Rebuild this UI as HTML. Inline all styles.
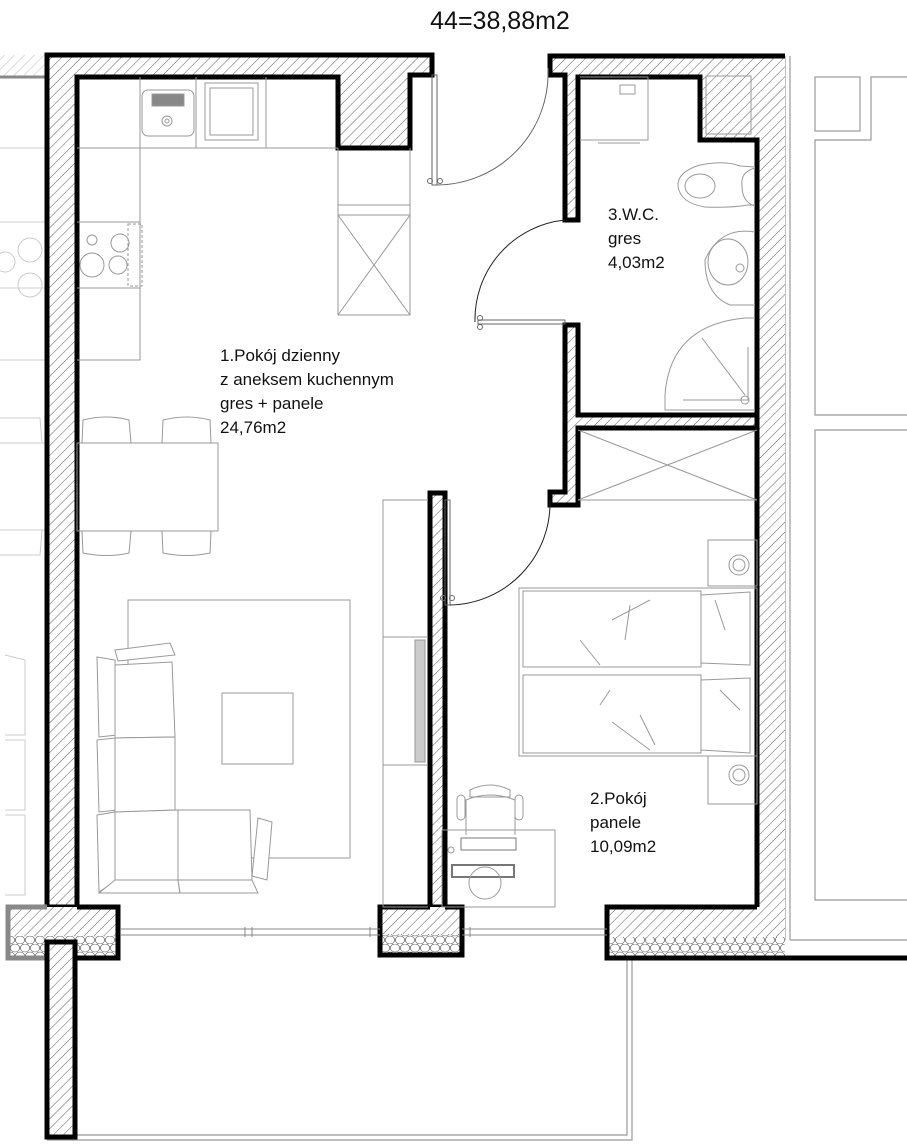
<!DOCTYPE html>
<html><head><meta charset="utf-8"><style>html,body{margin:0;padding:0;background:#fff}svg{display:block}</style></head>
<body>
<svg width="907" height="1148" viewBox="0 0 907 1148" xmlns="http://www.w3.org/2000/svg" font-family="'Liberation Sans', sans-serif">
<defs>
<pattern id="h" patternUnits="userSpaceOnUse" width="7" height="7" patternTransform="rotate(45)">
<rect width="7" height="7" fill="#fff"/><line x1="0" y1="0" x2="0" y2="7" stroke="#333" stroke-width="0.8"/></pattern>
<pattern id="hg" patternUnits="userSpaceOnUse" width="7" height="7" patternTransform="rotate(45)">
<rect width="7" height="7" fill="#fff"/><line x1="0" y1="0" x2="0" y2="7" stroke="#aaa" stroke-width="0.8"/></pattern>
<pattern id="st" patternUnits="userSpaceOnUse" width="10" height="16">
<rect width="10" height="16" fill="#fff"/>
<ellipse cx="5" cy="4" rx="4.6" ry="4" fill="none" stroke="#444" stroke-width="0.6"/>
<ellipse cx="0" cy="12" rx="4.6" ry="4" fill="none" stroke="#444" stroke-width="0.6"/>
<ellipse cx="10" cy="12" rx="4.6" ry="4" fill="none" stroke="#444" stroke-width="0.6"/>
</pattern>
</defs>
<rect width="907" height="1148" fill="#fff"/>
<text x="500" y="29" font-size="25" text-anchor="middle" fill="#111">44=38,88m2</text>

<rect x="0" y="55" width="45" height="22" fill="url(#hg)"/>
<line x1="0" y1="77" x2="45" y2="77" stroke="#888" stroke-width="3"/>
<g fill="none" stroke="#ccc" stroke-width="1">
<line x1="0" y1="148" x2="45" y2="148"/><line x1="0" y1="222" x2="45" y2="222"/><line x1="0" y1="288" x2="45" y2="288"/><line x1="0" y1="360" x2="45" y2="360"/>
<circle cx="30" cy="250" r="12"/><circle cx="30" cy="285" r="12"/><circle cx="5" cy="262" r="10"/>
<line x1="0" y1="443" x2="45" y2="443"/><line x1="0" y1="530" x2="45" y2="530"/>
<path d="M0 418 L40 418 L42 443 M0 555 L40 555 L42 530"/>
<path d="M5 655 L25 660 L25 735 L5 735 M5 740 L25 740 L25 810 L5 810 M5 815 L25 815 L25 895 L5 895"/>
</g>

<g fill="none" stroke="#999" stroke-width="1.2">
<line x1="785" y1="56" x2="785" y2="940"/>
<line x1="790" y1="56" x2="790" y2="940"/>
<rect x="815" y="77" width="45" height="54"/>
<path d="M907 77 L871 77 L871 140 L815 140 L815 415 L907 415"/>
<path d="M907 430 L815 430 L815 900 L907 900"/>
<line x1="790" y1="940" x2="907" y2="940"/>
</g>

<g fill="none" stroke="#999" stroke-width="1.2">
<path d="M47 1140 L632 1140 L632 958"/><path d="M47 1135 L627 1135 L627 958"/>
</g>

<g stroke="#000" stroke-width="5" stroke-linejoin="miter">
<path d="M47 55 L432 55 L432 75 L410 75 L410 148 L338 148 L338 77 L77 77 L77 907 L47 907 Z" fill="url(#h)"/>
<path d="M550 56 L785 56 L785 940 L757 940 L757 140 L700 140 L700 77 L578 77 L578 220 L565 220 L565 75 L550 75 Z" fill="url(#h)" stroke="none"/>
<path d="M785 56 L550 56 L550 75 L565 75 L565 220 L578 220 L578 77 L700 77 L700 140 L757 140 L757 415" fill="none"/>
<path d="M565 325 L578 325 L578 415 L757 415 L757 428 L578 428 L578 505 L550 505 L550 492 L565 492 Z" fill="url(#h)"/>
<path d="M757 428 L757 907" fill="none"/>
<path d="M430 493 L445 493 L445 907 L430 907 Z" fill="url(#h)"/>
<rect x="8" y="907" width="110" height="29" fill="url(#h)" stroke="none"/>
<rect x="8" y="936" width="110" height="22" fill="url(#st)" stroke="none"/>
<path d="M77 907 L118 907 L118 958 L75 958" fill="none"/>
<path d="M47 907 L8 907 L8 958 L47 958" fill="none" stroke="#888"/>
<rect x="380" y="907" width="82" height="27" fill="url(#h)" stroke="none"/>
<rect x="380" y="934" width="82" height="21" fill="url(#st)" stroke="none"/>
<path d="M430 907 L380 907 L380 955 L462 955 L462 907 L445 907" fill="none"/>
<rect x="607" y="907" width="178" height="30" fill="url(#h)" stroke="none"/>
<rect x="607" y="937" width="178" height="21" fill="url(#st)" stroke="none"/>
<path d="M757 907 L607 907 L607 958 L907 958" fill="none"/>
<rect x="47" y="942" width="28" height="195" fill="url(#h)"/>
</g>

<g fill="none" stroke="#888" stroke-width="1">
<path d="M120 929 L380 929 M120 935 L380 935 M245 927 L245 937 M252 927 L252 937 M370 927 L370 937"/>
<path d="M462 929 L607 929 M462 935 L607 935 M470 927 L470 937"/>
</g>

<g fill="none" stroke="#666" stroke-width="1">
<rect x="432" y="75" width="5" height="110"/>
<path d="M548 68 A112 112 0 0 1 437 185" />
<rect x="478" y="320" width="87" height="4"/>
<path d="M565 220 A100 100 0 0 0 475 322" stroke="#222"/>
<rect x="445" y="500" width="5" height="105"/>
<path d="M550 500 A102 102 0 0 1 450 605" stroke="#222"/>
<circle cx="430" cy="181" r="2.5"/><circle cx="440" cy="181" r="2.5"/>
<circle cx="480" cy="318" r="2.5"/><circle cx="480" cy="327" r="2.5"/>
<circle cx="443" cy="598" r="2.5"/><circle cx="452" cy="598" r="2.5"/>
</g>

<g fill="none" stroke="#999" stroke-width="1">
<path d="M77 148 L338 148 M140 77 L140 360 L77 360 M196 77 L196 148 M266 77 L266 148"/>
<rect x="142" y="90" width="52" height="46" rx="6"/><rect x="152" y="94" width="32" height="12" fill="#888"/>
<circle cx="167" cy="121" r="5"/><circle cx="167" cy="121" r="2"/>
<rect x="205" y="83" width="53" height="57"/><rect x="210" y="88" width="43" height="47"/>
<path d="M77 222 L140 222 M77 288 L140 288"/>
<rect x="128" y="224" width="14" height="62" stroke-dasharray="3 2"/>
<circle cx="92" cy="240" r="5"/><circle cx="120" cy="243" r="9"/><circle cx="92" cy="265" r="12"/><circle cx="118" cy="265" r="9"/>
<path d="M338 148 L338 315 L410 315 L410 148 M338 205 L410 205 M338 215 L410 215 M338 215 L410 315 M410 215 L338 315"/>
</g>

<g fill="none" stroke="#999" stroke-width="1">
<rect x="77" y="443" width="141" height="88"/>
<path d="M82 443 L83 420 Q106 414 129 420 L131 443 M162 443 L163 420 Q187 414 210 420 L211 443"/>
<path d="M82 531 L83 553 Q106 558 129 553 L131 531 M162 531 L163 553 Q187 558 210 553 L211 531"/>
<rect x="128" y="600" width="222" height="258"/>
<rect x="222" y="693" width="71" height="71" fill="#fff"/>
<g fill="#fff">
<path d="M97 657 L115 660 L117 735 L99 737 Z"/><path d="M97 740 L115 738 L117 810 L99 812 Z"/><path d="M97 815 L115 812 L117 880 L99 892 Z"/>
<path d="M115 665 L172 662 L175 737 L115 738 Z"/><path d="M115 738 L175 737 L175 810 L115 812 Z"/><path d="M115 812 L178 810 L178 880 L115 880 Z"/>
<path d="M178 810 L250 810 L252 880 L178 880 Z"/>
<path d="M115 650 L170 643 L175 655 L118 661 Z"/>
<path d="M115 880 L178 880 L180 893 L99 893 Z"/><path d="M178 880 L252 880 L258 893 L180 893 Z"/>
<path d="M258 818 L272 822 L267 880 L252 876 Z"/>
</g>
</g>

<g fill="none" stroke="#999" stroke-width="1">
<path d="M428 500 L383 500 L383 907 L428 907 M383 637 L428 637 M383 765 L428 765"/>
<rect x="415" y="640" width="10" height="122" fill="#ccc"/>
</g>

<g fill="none" stroke="#999" stroke-width="1">
<path d="M578 500 L757 500 M578 430 L757 500 M757 430 L578 500"/>
<rect x="708" y="540" width="49" height="46"/><circle cx="739" cy="565" r="10"/><circle cx="739" cy="565" r="6"/>
<rect x="708" y="756" width="49" height="48"/><circle cx="739" cy="775" r="10"/><circle cx="739" cy="775" r="6"/>
<rect x="519" y="588" width="238" height="168"/>
<path d="M523 591 L701 591 L701 667 L523 667 Z M523 675 L701 675 L701 753 L523 753 Z M701 595 L750 592 L750 665 L701 663 M701 680 L750 678 L750 753 L701 750"/>
<path d="M612 620 L650 600 M630 605 L625 640 M580 640 L600 665 M610 690 L600 705 M612 722 L650 750 M640 715 L655 745 M715 600 L725 630 M720 690 L740 710"/>
<rect x="442" y="830" width="113" height="77"/>
<rect x="452" y="865" width="62" height="12" stroke="#777" stroke-width="2"/>
<rect x="461" y="838" width="55" height="12" stroke="#777"/>
<path d="M466 835 L466 800 Q490 790 515 800 L515 835"/>
<path d="M470 790 Q490 780 510 790 L510 797 L470 797 Z"/>
<rect x="457" y="795" width="8" height="25" rx="4"/><rect x="515" y="795" width="8" height="25" rx="4"/>
<circle cx="485" cy="883" r="16"/><circle cx="451" cy="850" r="3"/>
</g>

<g fill="none" stroke="#999" stroke-width="1">
<path d="M580 77 L648 77 L648 140 L580 140 M598 143 L640 143"/><rect x="620" y="85" width="15" height="9"/>
<path d="M755 167 L740 166 Q725 160 700 165 Q677 172 678 186 Q680 203 705 207 Q730 208 748 205 L755 205"/>
<ellipse cx="700" cy="186" rx="15" ry="12"/>
<path d="M755 168 Q740 172 742 186 Q742 202 755 206"/>
<path d="M755 232 Q720 226 705 260 Q705 295 730 305 L755 305"/>
<ellipse cx="728" cy="262" rx="20" ry="23"/><circle cx="740" cy="268" r="4"/>
<path d="M755 318 L745 318 Q670 325 665 395 L665 410 L755 410"/>
<path d="M748 347 L748 400 L683 400 M702 338 L745 395"/><circle cx="745" cy="400" r="4"/>
<rect x="706" y="76" width="45" height="58"/>
</g>

<g font-size="17" fill="#111">
<text x="220" y="361">1.Pokój dzienny</text>
<text x="220" y="385">z aneksem kuchennym</text>
<text x="220" y="409">gres + panele</text>
<text x="220" y="433">24,76m2</text>
<text x="608" y="220">3.W.C.</text>
<text x="608" y="244">gres</text>
<text x="608" y="268">4,03m2</text>
<text x="590" y="804">2.Pokój</text>
<text x="590" y="828">panele</text>
<text x="590" y="852">10,09m2</text>
</g>
</svg>
</body></html>
